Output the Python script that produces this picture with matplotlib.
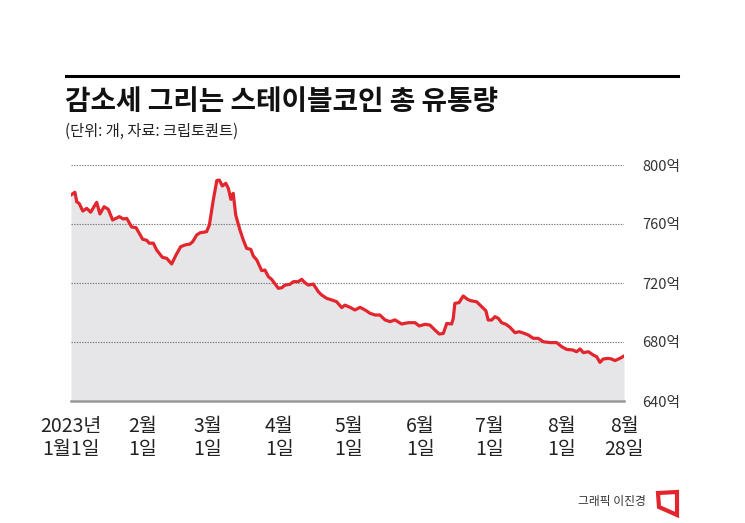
import matplotlib
matplotlib.use('Agg')
import matplotlib.pyplot as plt
from matplotlib.patches import Polygon
from matplotlib.lines import Line2D

plt.rcParams['font.family'] = ['Noto Sans CJK KR', 'DejaVu Sans']

# days since 2023-01-01, values in 억 개
days = [0, 1.7, 2.5, 3.5, 5.1, 6.8, 8.5, 11.1, 12.5, 14.3, 16.1, 18.0, 20.9, 22.6, 24.1,
        26.2, 28.1, 31.0, 32.7, 33.8, 35.6, 37.0, 39.5, 41.4, 43.5, 45.4, 47.4, 49.3,
        51.4, 52.6, 54.3, 55.7, 58.6, 59.8, 61.5, 63.0, 64.1, 65.4, 66.9, 68.0, 69.1,
        70.1, 71.2, 73.0, 74.5, 75.9, 77.7, 78.8, 80.3, 82.4, 83.8, 85.3, 86.7, 88.2,
        89.6, 91.1, 92.5, 94.6, 96.1, 98.2, 99.7, 101.1, 102.6, 104.7, 106.9, 108.3,
        110.5, 112.7, 114.8, 117.0, 118.4, 120.6, 122.7, 124.9, 127.1, 129.2, 131.4,
        133.5, 135.7, 137.9, 140.0, 142.9, 145.8, 148.7, 150.5, 153.0, 155.1, 157.3,
        159.2, 160.9, 162.4, 164.5, 165.2, 165.9, 167.7, 169.5, 171.3, 172.7, 175.3,
        177.5, 179.3, 180.3, 181.8, 183.2, 184.7, 186.1, 188.0, 189.7, 191.9, 193.7,
        195.8, 197.6, 199.8, 201.9, 204.1, 207.0, 209.9, 212.1, 214.2, 216.8, 218.5,
        220.0, 221.4, 223.6, 225.7, 227.2, 228.6, 230.0, 232.2, 233.6, 235.1, 237.2, 239]
supply = [779.7, 781.5, 775.0, 774.0, 768.8, 770.6, 768.0, 774.7, 766.8, 771.7, 770.0,
          762.7, 765.0, 763.4, 763.8, 758.0, 757.5, 749.6, 749.0, 747.0, 747.0, 742.4,
          737.4, 736.7, 732.9, 739.0, 744.6, 745.8, 746.4, 748.0, 752.5, 754.0, 754.8,
          759.3, 776.3, 789.4, 789.8, 785.8, 787.6, 784.2, 776.7, 780.8, 766.0, 756.0,
          749.0, 743.5, 742.8, 738.3, 735.6, 728.4, 728.8, 724.3, 722.5, 719.3, 716.4,
          716.8, 718.6, 719.1, 720.9, 720.9, 722.5, 720.2, 718.6, 719.3, 714.1, 711.9,
          709.6, 708.5, 707.3, 703.3, 705.0, 703.5, 701.7, 703.5, 701.7, 699.5, 698.3,
          698.3, 695.0, 693.8, 695.0, 692.2, 693.1, 693.1, 690.9, 692.0, 691.5, 688.1,
          685.4, 685.8, 692.6, 692.2, 696.0, 706.2, 706.7, 711.2, 709.0, 708.0, 707.3,
          703.9, 701.2, 694.9, 694.9, 697.2, 696.0, 693.1, 692.0, 690.0, 686.3, 687.0,
          685.9, 684.8, 682.5, 682.5, 680.2, 679.6, 679.6, 676.8, 675.0, 674.6, 673.4,
          675.3, 672.8, 673.4, 671.2, 670.0, 666.2, 668.5, 668.9, 668.5, 667.4, 668.9, 670.5]

tick_days = [0, 31, 59, 90, 120, 151, 181, 212, 239]
tick_labels = ['2023년\n1월1일', '2월\n1일', '3월\n1일', '4월\n1일', '5월\n1일',
               '6월\n1일', '7월\n1일', '8월\n1일', '8월\n28일']
y_ticks = [640, 680, 720, 760, 800]
y_labels = ['640억', '680억', '720억', '760억', '800억']

W, H = 745, 523
fig = plt.figure(figsize=(W / 100, H / 100), dpi=100)
ax = fig.add_axes([71 / W, 1 - 401 / H, (624 - 71) / W, (401 - 165) / H])

red = '#e3262d'
ax.fill_between(days, supply, 640, color='#e6e6e8', lw=0, zorder=1)
ax.plot(days, supply, color=red, lw=2.3, solid_joinstyle='round', zorder=3)

ax.set_xlim(0, 239)
ax.set_ylim(640, 800)
for v in y_ticks[1:]:
    ax.axhline(v, color='#777777', lw=0.8, ls=(0, (1.2, 1.2)), zorder=2)
ax.axhline(640, color='#999999', lw=1.8, zorder=4, clip_on=False)

for s in ax.spines.values():
    s.set_visible(False)
ax.yaxis.tick_right()
ax.set_yticks(y_ticks)
ax.set_yticklabels(y_labels, fontsize=10.5, color='#333333')
ax.tick_params(axis='y', length=0, pad=13)
ax.set_xticks(tick_days)
ax.set_xticklabels(tick_labels, fontsize=14, color='#222222', linespacing=1.08)
ax.tick_params(axis='x', length=0, pad=11)

# header
fig.add_artist(Line2D([66 / W, 678 / W], [1 - 76 / H, 1 - 76 / H], color='black', lw=2.2))
fig.text(65 / W, 1 - 102 / H, '감소세 그리는 스테이블코인 총 유통량', fontsize=20,
         fontweight='bold', va='center', ha='left', color='#111111')
fig.text(65 / W, 1 - 131 / H, '(단위: 개, 자료: 크립토퀀트)', fontsize=11,
         va='center', ha='left', color='#222222')

# footer
fig.text(646 / W, 1 - 502 / H, '그래픽 이진경', fontsize=8.5, va='center', ha='right', color='#333333')
logo = Polygon([(658 / W, 1 - 493 / H), (677 / W, 1 - 492 / H), (677 / W, 1 - 515 / H),
                (659 / W, 1 - 507 / H)], closed=True, fill=False, edgecolor=red, lw=3,
               joinstyle='miter', transform=fig.transFigure)
fig.add_artist(logo)

fig.savefig('out.png', dpi=100, facecolor='white')
